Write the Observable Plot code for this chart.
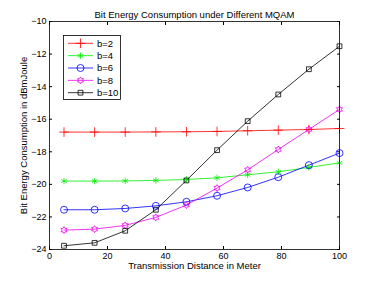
<!DOCTYPE html>
<html><head><meta charset="utf-8">
<script src="https://cdn.jsdelivr.net/npm/d3@7"></script>
<script src="https://cdn.jsdelivr.net/npm/@observablehq/plot@0.6"></script>
<style>
body{margin:0;background:#fff}
#wrap{position:relative;width:374px;height:281px;font-family:"Liberation Sans",Arial,sans-serif}
#legend{position:absolute;left:63px;top:35px}
</style>
</head><body><div id="wrap"></div>
<script>
// ---- data ----
const distance = [5, 15.56, 26.11, 36.67, 47.22, 57.78, 68.33, 78.89, 89.44, 100];
const b2  = [-16.79, -16.79, -16.79, -16.78, -16.77, -16.75, -16.71, -16.67, -16.63, -16.57];
const b4  = [-19.80, -19.80, -19.79, -19.76, -19.70, -19.60, -19.41, -19.23, -18.96, -18.68];
const b6  = [-21.56, -21.56, -21.48, -21.32, -21.07, -20.70, -20.19, -19.56, -18.82, -18.08];
const b8  = [-22.81, -22.75, -22.52, -22.03, -21.27, -20.23, -19.11, -17.86, -16.63, -15.40];
const b10 = [-23.77, -23.59, -22.85, -21.56, -19.76, -17.90, -16.12, -14.48, -12.93, -11.52];
const seriesNames = ["b=2", "b=4", "b=6", "b=8", "b=10"];
const seriesValues = [b2, b4, b6, b8, b10];
const xTicks = [0, 20, 40, 60, 80, 100];
const yTicks = [-24, -22, -20, -18, -16, -14, -12, -10];
const titleText = "Bit Energy Consumption under Different MQAM";
const xLabel = "Transmission Distance in Meter";
const yLabel = "Bit Energy Consumption in dBmJoule";

// ---- styles ----
const palette = ["#ff0000", "#00ee00", "#0000ff", "#ee00ee", "#000000"];
const hexagram = {draw(ctx, size) {
  const R = Math.sqrt(size / Math.PI) * 1.15, r0 = R / Math.sqrt(3);
  for (let i = 0; i < 12; i++) {
    const a = Math.PI / 6 * i - Math.PI / 2, rr = i % 2 ? r0 : R;
    const x = rr * Math.cos(a), y = rr * Math.sin(a);
    i ? ctx.lineTo(x, y) : ctx.moveTo(x, y);
  }
  ctx.closePath();
}};
const markers = [d3.symbolPlus, d3.symbolAsterisk, d3.symbolCircle, hexagram, d3.symbolSquare];
const markerR = [3.2, 3.0, 3.5, 3.0, 2.7];

const rows = [];
seriesNames.forEach((n, i) => distance.forEach((d, j) => rows.push({series: n, x: d, y: seriesValues[i][j]})));

const marks = [
  Plot.line(rows, {x: "x", y: "y", z: "series", stroke: "series", strokeWidth: 0.8}),
  ...seriesNames.map((n, i) => Plot.dot(rows.filter(r => r.series === n), {
    x: "x", y: "y", symbol: markers[i], r: markerR[i], stroke: palette[i], fill: "none", strokeWidth: 0.8
  })),
  Plot.axisX({ticks: xTicks, tickSize: -3, tickPadding: 6, label: null, tickFormat: d => String(d)}),
  Plot.axisX({anchor: "top", ticks: xTicks, tickSize: -3, label: null, tickFormat: () => ""}),
  Plot.axisY({ticks: yTicks, tickSize: -3, tickPadding: 6, label: null, tickFormat: d => d < 0 ? "\u2212" + Math.abs(d) : String(d)}),
  Plot.axisY({anchor: "right", ticks: yTicks, tickSize: -3, label: null, tickFormat: () => ""}),
  Plot.frame({stroke: "black", strokeWidth: 0.8}),
  Plot.text([titleText], {frameAnchor: "top", dy: -10, fontSize: 9.5}),
  Plot.text([xLabel], {frameAnchor: "bottom", dy: 19, fontSize: 9.5}),
  Plot.text([yLabel], {frameAnchor: "left", dx: -26, rotate: -90, textAnchor: "middle", fontSize: 9.5})
];

const chart = Plot.plot({
  width: 374, height: 281,
  marginLeft: 49, marginRight: 35, marginTop: 21, marginBottom: 32,
  style: {fontFamily: "'Liberation Sans', Arial, sans-serif", fontSize: "9px", background: "#fff", color: "#000"},
  x: {domain: [0, 100]},
  y: {domain: [-24, -10]},
  color: {domain: seriesNames, range: palette},
  marks
});
const wrap = document.getElementById("wrap");
wrap.appendChild(chart);

// ---- legend ----
const lw = 58, lh = 65;
const lg = d3.select(wrap).append("svg").attr("id", "legend").attr("width", lw).attr("height", lh)
  .style("font-family", "'Liberation Sans', Arial, sans-serif").style("font-size", "9.5px");
lg.append("rect").attr("x", 0.5).attr("y", 0.5).attr("width", lw - 1).attr("height", lh - 1)
  .attr("fill", "#fff").attr("stroke", "#000").attr("stroke-width", 0.8);
seriesNames.forEach((n, i) => {
  const y = 8.3 + i * 12.35;
  const g = lg.append("g");
  g.append("line").attr("x1", 5).attr("x2", 30).attr("y1", y).attr("y2", y)
    .attr("stroke", palette[i]).attr("stroke-width", 0.8);
  g.append("path").attr("d", d3.symbol(markers[i], Math.PI * markerR[i] * markerR[i])())
    .attr("transform", `translate(17.5,${y})`).attr("fill", "none").attr("stroke", palette[i]).attr("stroke-width", 0.8);
  g.append("text").attr("x", 34).attr("y", y).attr("dy", "0.35em").text(n);
});
</script>
</body></html>
